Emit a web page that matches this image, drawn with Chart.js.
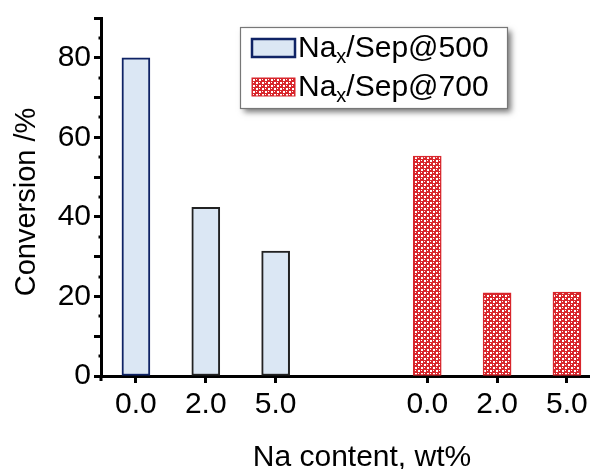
<!DOCTYPE html>
<html>
<head>
<meta charset="utf-8">
<script src="https://cdn.jsdelivr.net/npm/chart.js@4.4.1/dist/chart.umd.min.js"></script>
<style>
  html, body { margin: 0; padding: 0; background: #fff; }
  #wrap { width: 590px; height: 469px; }
</style>
</head>
<body>
<div id="wrap"><canvas id="naChart" width="590" height="469"></canvas></div>
<script>
// values
const categories = ['0.0', '2.0', '5.0'];
const sep500 = [80.0, 42.4, 31.4];
const sep700 = [55.3, 20.9, 21.1];
const yTicks = [0, 10, 20, 30, 40, 50, 60, 70, 80, 90];
const yLabelled = [0, 20, 40, 60, 80];
const seriesNames = ['/Sep@500', '/Sep@700'];
const xTitle = 'Na content, wt%';
const yTitle = 'Conversion /%';

const FONT = 'Arial, "Liberation Sans", Helvetica, sans-serif';
const groupOffset = 4.17;  // gap between the two groups, in slot units

function slot(group, i) {
    return group * groupOffset + i;
}

function makePattern() {
    const c = document.createElement('canvas');
    c.width = 6; c.height = 6;
    const g = c.getContext('2d');
    g.fillStyle = '#d8262c';
    g.fillRect(0, 0, 6, 6);
    g.fillStyle = '#ffffff';
    g.fillRect(1, 1, 2, 2);
    g.fillRect(4, 4, 2, 2);
    g.fillRect(1, 4, 1, 1);
    g.fillRect(4, 1, 1, 1);
    return g.createPattern(c, 'repeat');
}
const redPattern = makePattern();

const blueFill = '#dbe7f4';
const navy = '#0f2365';
const red = '#d8262c';

const tickPositions = [0, 1, 2].map(i => slot(0, i)).concat([0, 1, 2].map(i => slot(1, i)));

const extras = {
    id: 'extras',
    afterDraw(chart) {
        const ctx = chart.ctx;
        const y = chart.scales.y;
        const x = chart.scales.x;
        ctx.save();
        ctx.strokeStyle = '#000';
        ctx.lineWidth = 3;
        // small ticks at the fives
        for (let v = 5; v < 90; v += 10) {
            const py = Math.round(y.getPixelForValue(v));
            ctx.beginPath();
            ctx.moveTo(y.right - 2.5, py);
            ctx.lineTo(y.right, py);
            ctx.stroke();
        }
        // axis stub below x axis
        ctx.beginPath();
        ctx.moveTo(x.left, x.top);
        ctx.lineTo(x.left, x.top + 5);
        ctx.stroke();

        // axis titles
        ctx.fillStyle = '#000';
        ctx.font = '30px ' + FONT;
        ctx.textAlign = 'center';
        ctx.textBaseline = 'alphabetic';
        ctx.fillText(xTitle, 362, 466);

        ctx.save();
        ctx.translate(27, 202);
        ctx.rotate(-Math.PI / 2);
        ctx.font = '29px ' + FONT;
        ctx.textBaseline = 'middle';
        ctx.fillText(yTitle, 0, 0);
        ctx.restore();
        ctx.restore();
    }
};

const boxLegend = {
    id: 'boxLegend',
    afterDraw(chart) {
        const ctx = chart.ctx;
        const bx = 240, by = 27, bw = 267, bh = 81;
        ctx.save();
        ctx.shadowColor = 'rgba(0,0,0,0.55)';
        ctx.shadowBlur = 6;
        ctx.shadowOffsetX = 4;
        ctx.shadowOffsetY = 4;
        ctx.fillStyle = '#fff';
        ctx.fillRect(bx, by, bw, bh);
        ctx.restore();

        ctx.save();
        ctx.strokeStyle = '#777';
        ctx.lineWidth = 1.2;
        ctx.strokeRect(bx + 0.5, by + 0.5, bw, bh);

        const swatches = [
            {fill: blueFill, stroke: navy, lw: 2.5, y: 39},
            {fill: redPattern, stroke: red, lw: 1, y: 78}
        ];
        swatches.forEach((s, i) => {
            ctx.fillStyle = s.fill;
            ctx.fillRect(252, s.y, 43, 18);
            ctx.strokeStyle = s.stroke;
            ctx.lineWidth = s.lw;
            ctx.strokeRect(252, s.y, 43, 18);

            const base = s.y + 18;
            ctx.fillStyle = '#000';
            ctx.textBaseline = 'alphabetic';
            ctx.textAlign = 'left';
            ctx.font = '30px ' + FONT;
            let tx = 298;
            ctx.fillText('Na', tx, base);
            tx += ctx.measureText('Na').width;
            ctx.font = '20px ' + FONT;
            ctx.fillText('x', tx, base + 6);
            tx += ctx.measureText('x').width;
            ctx.font = '30px ' + FONT;
            ctx.fillText(seriesNames[i], tx, base);
        });
        ctx.restore();
    }
};

new Chart(document.getElementById('naChart').getContext('2d'), {
    type: 'bar',
    data: {
        datasets: [{
            label: 'Nax' + seriesNames[0],
            data: sep500.map((v, i) => ({x: slot(0, i), y: v})),
            backgroundColor: blueFill,
            borderColor: [navy, '#222', '#222'],
            borderWidth: 2,
            borderSkipped: false,
            barThickness: 28,
            grouped: false
        }, {
            label: 'Nax' + seriesNames[1],
            data: sep700.map((v, i) => ({x: slot(1, i), y: v})),
            backgroundColor: redPattern,
            borderColor: red,
            borderWidth: 1.5,
            borderSkipped: false,
            barThickness: 28,
            grouped: false
        }]
    },
    options: {
        responsive: false,
        animation: false,
        devicePixelRatio: 1,
        layout: {padding: {top: 18, right: 0, left: 0, bottom: 0}},
        plugins: {
            legend: {display: false},
            tooltip: {enabled: false}
        },
        scales: {
            x: {
                type: 'linear',
                min: -0.5,
                max: 6.5,
                offset: false,
                afterBuildTicks: scale => {
                    scale.ticks = tickPositions.map(v => ({value: v}));
                },
                afterFit: scale => {
                    scale.height = 93;
                    scale.paddingLeft = 0;
                    scale.paddingRight = 0;
                },
                ticks: {
                    autoSkip: false,
                    maxRotation: 0,
                    color: '#000',
                    padding: 4,
                    font: {family: FONT, size: 30},
                    callback: (v, i) => categories[i % 3]
                },
                grid: {
                    offset: false,
                    drawOnChartArea: false,
                    drawTicks: true,
                    tickLength: 7,
                    tickWidth: 3,
                    tickColor: '#000'
                },
                border: {display: true, color: '#000', width: 3}
            },
            y: {
                min: 0,
                max: 90,
                afterFit: scale => {
                    scale.width = 101;
                    scale.paddingTop = 0;
                    scale.paddingBottom = 0;
                },
                afterBuildTicks: scale => {
                    scale.ticks = yTicks.map(v => ({value: v}));
                },
                ticks: {
                    color: '#000',
                    padding: 3,
                    font: {family: FONT, size: 30},
                    callback: v => (yLabelled.includes(v) ? String(v) : '')
                },
                grid: {
                    drawOnChartArea: false,
                    drawTicks: true,
                    tickLength: 7,
                    tickWidth: 3,
                    tickColor: '#000'
                },
                border: {display: true, color: '#000', width: 3}
            }
        }
    },
    plugins: [extras, boxLegend]
});
</script>
</body>
</html>
